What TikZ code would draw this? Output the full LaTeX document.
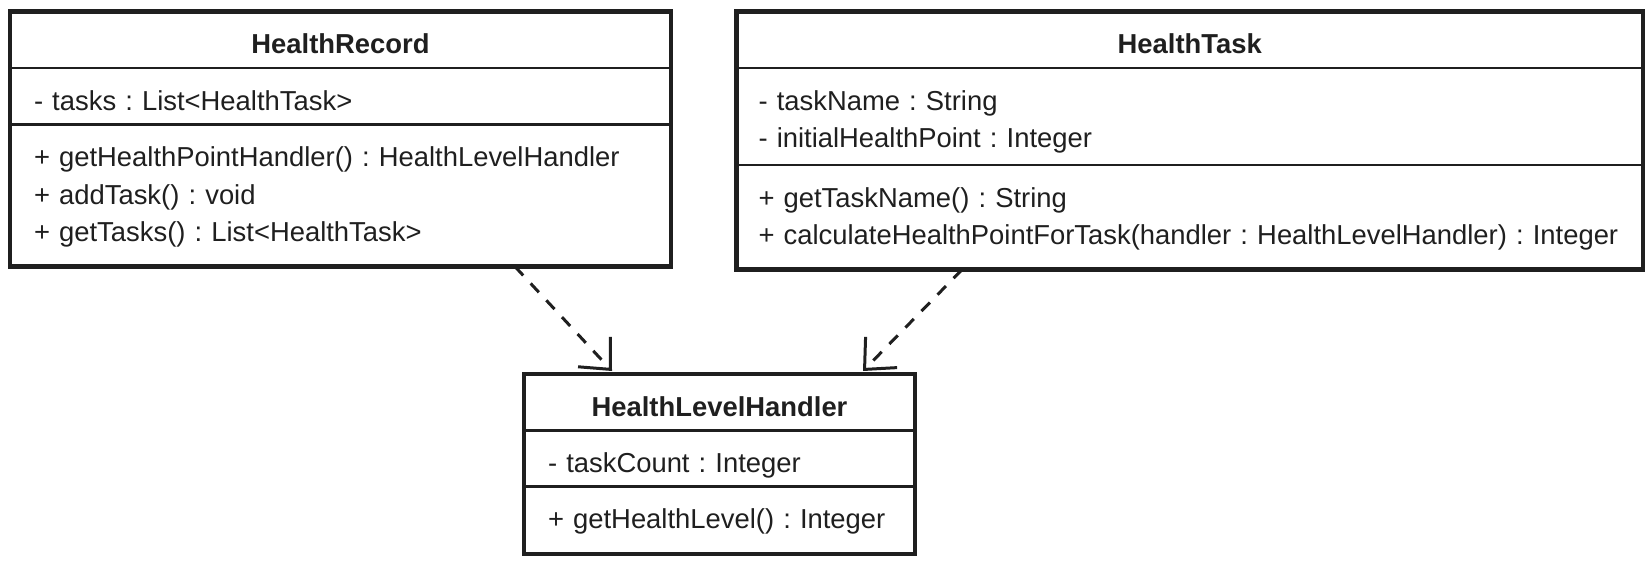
\documentclass[tikz,border=0pt]{standalone}
\usepackage{fontspec}
\setmainfont{Liberation Sans}
\usetikzlibrary{shapes.multipart,arrows.meta,calc}

\newcommand{\firstrow}{\rule{0pt}{20pt}}
\newcommand{\lastrow}{\rule[-5.9pt]{0pt}{5.9pt}}
\newcommand{\bottomrow}{\rule[-11.4pt]{0pt}{11.4pt}}
\newcommand{\classname}[1]{\makebox[\linewidth][c]{\firstrow\textbf{#1}\lastrow}}
\frenchspacing

\begin{document}
\begin{tikzpicture}[x=0.5pt, y=-0.5pt, font=\fontsize{13.7pt}{18.75pt}\selectfont,
		umlclass/.style={rectangle split, rectangle split parts=3, rectangle split draw splits=false,
			draw=black!88, text=black!88, line width=2.25pt, inner xsep=12pt, inner ysep=0pt,
			outer sep=0pt, align=left, anchor=north},
		splitline/.style={draw=black!88, line width=1.2pt},
		dep/.style={-{Straight Barb[length=12pt,width=22pt]}, draw=black!88, line width=1.5pt,
			dash pattern=on 6pt off 5.5pt}]
		\useasboundingbox (0,0) rectangle (1652,563);
		\node[umlclass, text width=306.5pt] (record) at (340.5,11.7) {\classname{HealthRecord}
			\nodepart{two}\firstrow- tasks : List<HealthTask>\lastrow
			\nodepart{three}\firstrow+ getHealthPointHandler() : HealthLevelHandler\\
			+ addTask() : void\\
			+ getTasks() : List<HealthTask>\bottomrow};
		\node[umlclass, inner xsep=11pt, text width=431.25pt] (task) at (1189.75,11.7) {\classname{HealthTask}
			\nodepart{two}\firstrow- taskName : String\\
			- initialHealthPoint : Integer\rule[-7.4pt]{0pt}{7.4pt}
			\nodepart{three}\firstrow+ getTaskName() : String\\
			+ calculateHealthPointForTask(handler : HealthLevelHandler) : Integer\bottomrow};
		\node[umlclass, text width=171.5pt] (handler) at (719.5,374) {\classname{HealthLevelHandler}
			\nodepart{two}\firstrow- taskCount : Integer\lastrow
			\nodepart{three}\firstrow+ getHealthLevel() : Integer\bottomrow};
		\foreach \c in {record,task,handler}{
			\draw[splitline] (\c.text split west) -- (\c.text split east);
			\draw[splitline] (\c.two split west) -- (\c.two split east);
		}
		\draw[dep] ($(record.south west)+(505,0)$) -- ($(handler.north west)+(88,-3)$);
		\draw[dep] ($(task.south west)+(225.5,0)$) -- ($(handler.north east)+(-52,-3)$);
	\end{tikzpicture}
\end{document}
